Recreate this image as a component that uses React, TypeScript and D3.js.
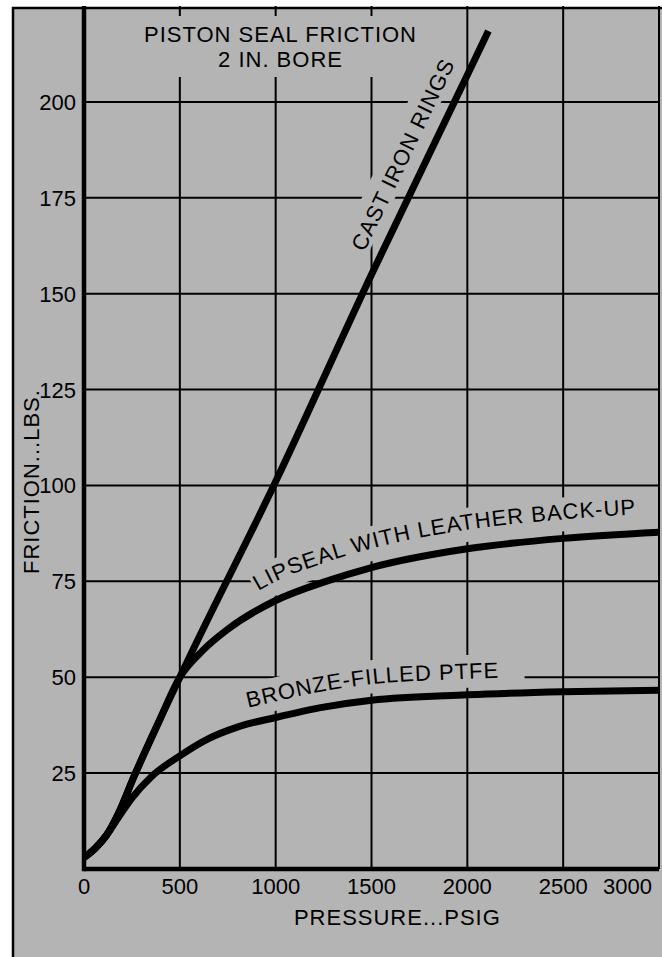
import React from "react";
import * as d3 from "d3";

// pressure (psig) / friction (lbs)
const castIronPsi = [0, 60, 120, 180, 260, 500, 1000, 1500, 2000, 2110];
const castIronLbs = [3, 5.5, 9, 14.5, 24, 50, 101, 155, 207, 218.5];

const lipsealPsi = [0, 60, 120, 180, 260, 380, 500, 620, 750, 1000, 1250, 1500, 2000, 2500, 3000];
const lipsealLbs = [3, 5.5, 9, 14.5, 24, 37.2, 50, 57, 62.5, 70, 74.8, 78.6, 83.5, 86.2, 87.8];

const ptfePsi = [0, 60, 120, 180, 250, 350, 500, 650, 800, 1000, 1250, 1500, 2000, 2500, 3000];
const ptfeLbs = [3, 5.5, 9, 13.5, 18.5, 24, 29.5, 34, 37, 39.5, 42.2, 44, 45.4, 46.2, 46.6];

const xTicks = [0, 500, 1000, 1500, 2000, 2500, 3000];
const yTicks = [25, 50, 75, 100, 125, 150, 175, 200];

const titleLines = ["PISTON SEAL FRICTION", "2 IN. BORE"];
const xTitle = "PRESSURE...PSIG";
const yTitle = "FRICTION...LBS.";
const castLabel = "CAST IRON RINGS";
const lipLabel = "LIPSEAL WITH LEATHER BACK-UP";
const ptfeLabel = "BRONZE-FILLED PTFE";

type Pt = [number, number];
const zip = (a: number[], b: number[]): Pt[] => a.map((v, i) => [v, b[i]]);

const FONT = "'Liberation Sans', Arial, Helvetica, sans-serif";
const GRAY = "#b4b4b4";

export default function App() {
  const width = 662;
  const height = 957;

  const x = d3.scaleLinear().domain([0, 3000]).range([84, 659]);
  const y = d3.scaleLinear().domain([0, 225]).range([869, 6]);

  const cast = zip(castIronPsi, castIronLbs);
  const lip = zip(lipsealPsi, lipsealLbs);
  const ptfe = zip(ptfePsi, ptfeLbs);

  const line = (dy = 0) =>
    d3
      .line<Pt>()
      .x((d) => x(d[0]))
      .y((d) => y(d[1]) + dy)
      .curve(d3.curveMonotoneX);

  // label paths follow the curves, shifted up
  const lipSub = lip.filter((d) => d[0] >= 750);
  const ptfeSub = ptfe.filter((d) => d[0] >= 650);

  // cast iron label: straight, rotated along the line
  const castInterp = d3.scaleLinear().domain(castIronPsi).range(castIronLbs);
  const ax = 1775;
  const p0 = [x(ax - 100), y(castInterp(ax - 100))];
  const p1 = [x(ax + 100), y(castInterp(ax + 100))];
  const ang = Math.atan2(p1[1] - p0[1], p1[0] - p0[0]);
  const angDeg = (ang * 180) / Math.PI;
  // "up" direction of rotated glyphs
  const ux = Math.sin(ang);
  const uy = -Math.cos(ang);
  const off = 16;
  const cx = x(ax) + ux * off;
  const cy = y(castInterp(ax)) + uy * off;
  const castLen = 210;

  const textStyle: React.CSSProperties = {
    fontFamily: FONT,
    fontSize: 22,
    fill: "#000",
  };

  return (
    <svg
      width={width}
      height={height}
      style={{ position: "absolute", left: 0, top: 0, background: "#fff" }}
    >
      <defs>
        <path id="lipPath" d={line(-19)(lipSub)!} />
        <path id="ptfePath" d={line(-16)(ptfeSub)!} />
      </defs>

      {/* panel */}
      <rect x={13} y={8} width={700} height={1000} fill={GRAY} stroke="#000" strokeWidth={2.5} />

      {/* grid */}
      <g stroke="#000" strokeWidth={2}>
        {xTicks
          .filter((t) => t > 0)
          .map((t) => (
            <line key={"gx" + t} x1={x(t)} x2={x(t)} y1={y(0)} y2={y(225)} />
          ))}
        {yTicks.map((t) => (
          <line key={"gy" + t} x1={x(0)} x2={x(3000)} y1={y(t)} y2={y(t)} />
        ))}
      </g>

      {/* knock-outs behind text */}
      <rect x={140} y={16} width={280} height={61} fill={GRAY} />
      <g transform={`translate(${cx},${cy}) rotate(${angDeg})`}>
        <rect x={-castLen / 2 - 6} y={-26} width={castLen + 12} height={30} fill={GRAY} />
      </g>
      <path
        d={line(-24)(lipSub)!}
        fill="none"
        stroke={GRAY}
        strokeWidth={34}
        strokeDasharray={`0 32 398 9999`}
      />
      <path
        d={line(-23.5)(ptfeSub)!}
        fill="none"
        stroke={GRAY}
        strokeWidth={33}
        strokeDasharray={`0 38 283 9999`}
      />

      {/* axes */}
      <g stroke="#000" strokeWidth={4.5}>
        <line x1={x(0)} x2={x(0)} y1={y(0) + 2.25} y2={y(225)} />
        <line x1={x(0)} x2={x(3000)} y1={y(0)} y2={y(0)} />
      </g>

      {/* curves */}
      <g fill="none" stroke="#000" strokeWidth={7} strokeLinecap="butt" strokeLinejoin="round">
        <path d={line()(ptfe)!} />
        <path d={line()(lip)!} />
        <path d={line()(cast)!} />
      </g>

      {/* tick labels */}
      <g style={textStyle}>
        {xTicks.map((t) => (
          <text
            key={"xl" + t}
            x={t === 3000 ? x(t) - 7 : x(t)}
            y={894}
            textAnchor={t === 3000 ? "end" : "middle"}
          >
            {t}
          </text>
        ))}
        {yTicks.map((t) => (
          <text key={"yl" + t} x={x(0) - 8} y={y(t) + 8} textAnchor="end">
            {t}
          </text>
        ))}
      </g>

      {/* titles and labels */}
      <g style={{ ...textStyle, letterSpacing: "1px" }}>
        <text x={280.5} y={42} textAnchor="middle">
          {titleLines[0]}
        </text>
        <text x={280.5} y={67} textAnchor="middle">
          {titleLines[1]}
        </text>
        <text x={x(1635)} y={925} textAnchor="middle">
          {xTitle}
        </text>
        <text transform={`translate(39,${y(101)}) rotate(-90)`} textAnchor="middle">
          {yTitle}
        </text>
        <text transform={`translate(${cx},${cy}) rotate(${angDeg})`} textAnchor="middle">
          {castLabel}
        </text>
        <text>
          <textPath href="#lipPath" startOffset={36}>
            {lipLabel}
          </textPath>
        </text>
        <text>
          <textPath href="#ptfePath" startOffset={42}>
            {ptfeLabel}
          </textPath>
        </text>
      </g>
    </svg>
  );
}
